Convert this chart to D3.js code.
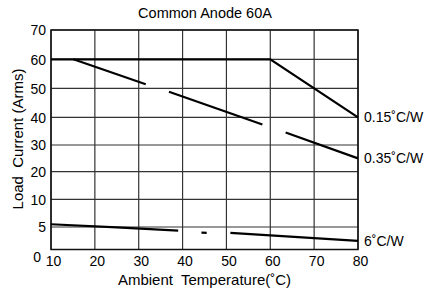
<!DOCTYPE html>
<html><head><meta charset="utf-8">
<script src="https://cdn.jsdelivr.net/npm/d3@7"></script>
<style>body{margin:0;background:#fff}svg{display:block}text{font-family:"Liberation Sans",Arial,sans-serif;fill:#000}</style>
</head><body><svg id="c" width="427" height="290"></svg>
<script>
const xTicks = [10, 20, 30, 40, 50, 60, 70, 80];
const yTicks = [0, 5, 10, 20, 30, 40, 50, 60, 70];
const curve015 = [[10, 60], [60, 60], [80, 40]];
const curve035 = [
  [[15.1, 60], [31.6, 51.4]],
  [[36.9, 48.8], [58.2, 37.4]],
  [[63.5, 34.5], [80, 25]]
];
const curve6 = [
  [[10, 5.5], [25, 4.9], [39, 4.2]],
  [[44.3, 3.75], [45.5, 3.7]],
  [[50.9, 3.7], [80, 1.9]]
];
const seriesLabels = [
  {text: "0.15˚C/W", at: 40},
  {text: "0.35˚C/W", at: 25},
  {text: "6˚C/W", at: 1.9}
];
const title = "Common Anode 60A";
const xTitle = "Ambient  Temperature(˚C)";
const yTitle = "Load  Current (Arms)";

const svg = d3.select("#c");
const x = d3.scaleLinear().domain([10, 80]).range([51, 358]);
// the y axis in the picture is not uniform: each tick is placed at its own height
const y = d3.scaleLinear().domain(yTicks).range([249.5, 227, 199.3, 171.7, 145, 117.3, 88.3, 59.3, 30]);

// grid
const g = svg.append("g");
g.selectAll("line.v").data(xTicks).join("line")
  .attr("x1", d => x(d)).attr("x2", d => x(d))
  .attr("y1", y(0)).attr("y2", y(70))
  .attr("stroke", "#333").attr("stroke-width", 1.2);
g.selectAll("line.h").data(yTicks).join("line")
  .attr("x1", x(10)).attr("x2", x(80))
  .attr("y1", d => y(d)).attr("y2", d => y(d))
  .attr("stroke", "#333").attr("stroke-width", 1.2);
svg.append("rect").attr("x", x(10)).attr("y", y(70))
  .attr("width", x(80) - x(10)).attr("height", y(0) - y(70))
  .attr("fill", "none").attr("stroke", "#111").attr("stroke-width", 1.5);

// axes (labels only)
const xAxis = d3.axisBottom(x).tickValues(xTicks).tickSize(0).tickPadding(5);
const xg = svg.append("g").attr("transform", `translate(0,${y(0)})`).call(xAxis);
xg.select(".domain").remove();
xg.selectAll("text").attr("font-size", 14).attr("dx", 2).attr("dy", "0.8em")
  .style("font-family", '"Liberation Sans",Arial,sans-serif').attr("fill", "#000");

const yAxis = d3.axisLeft(y).tickValues(yTicks).tickSize(0).tickPadding(5);
const yg = svg.append("g").attr("transform", `translate(${x(10)},0)`).call(yAxis);
yg.select(".domain").remove();
yg.selectAll("text").attr("font-size", 14)
  .style("font-family", '"Liberation Sans",Arial,sans-serif').attr("fill", "#000")
  .attr("dx", d => d === 0 ? -5 : 0)
  .attr("dy", d => d === 0 ? "0.85em" : "0.35em");

// curves
const line = d3.line().x(d => x(d[0])).y(d => y(d[1]));
const segs = [curve015, ...curve035, ...curve6];
svg.selectAll("path.curve").data(segs).join("path")
  .attr("class", "curve").attr("d", line)
  .attr("fill", "none").attr("stroke", "#000").attr("stroke-width", 2.2)
  .attr("stroke-linecap", "butt");

// series labels
svg.selectAll("text.sl").data(seriesLabels).join("text")
  .attr("class", "sl").attr("x", x(80) + 6).attr("y", d => y(d.at))
  .attr("dy", "0.35em").attr("font-size", 14).text(d => d.text);

// titles
svg.append("text").attr("x", 205).attr("y", 18).attr("text-anchor", "middle")
  .attr("font-size", 14.5).text(title);
svg.append("text").attr("x", 204.5).attr("y", 285).attr("text-anchor", "middle")
  .attr("font-size", 15).style("white-space", "pre").text(xTitle);
svg.append("text").attr("transform", "translate(23,139) rotate(-90)")
  .attr("text-anchor", "middle").attr("font-size", 15).style("white-space", "pre").text(yTitle);
</script></body></html>
